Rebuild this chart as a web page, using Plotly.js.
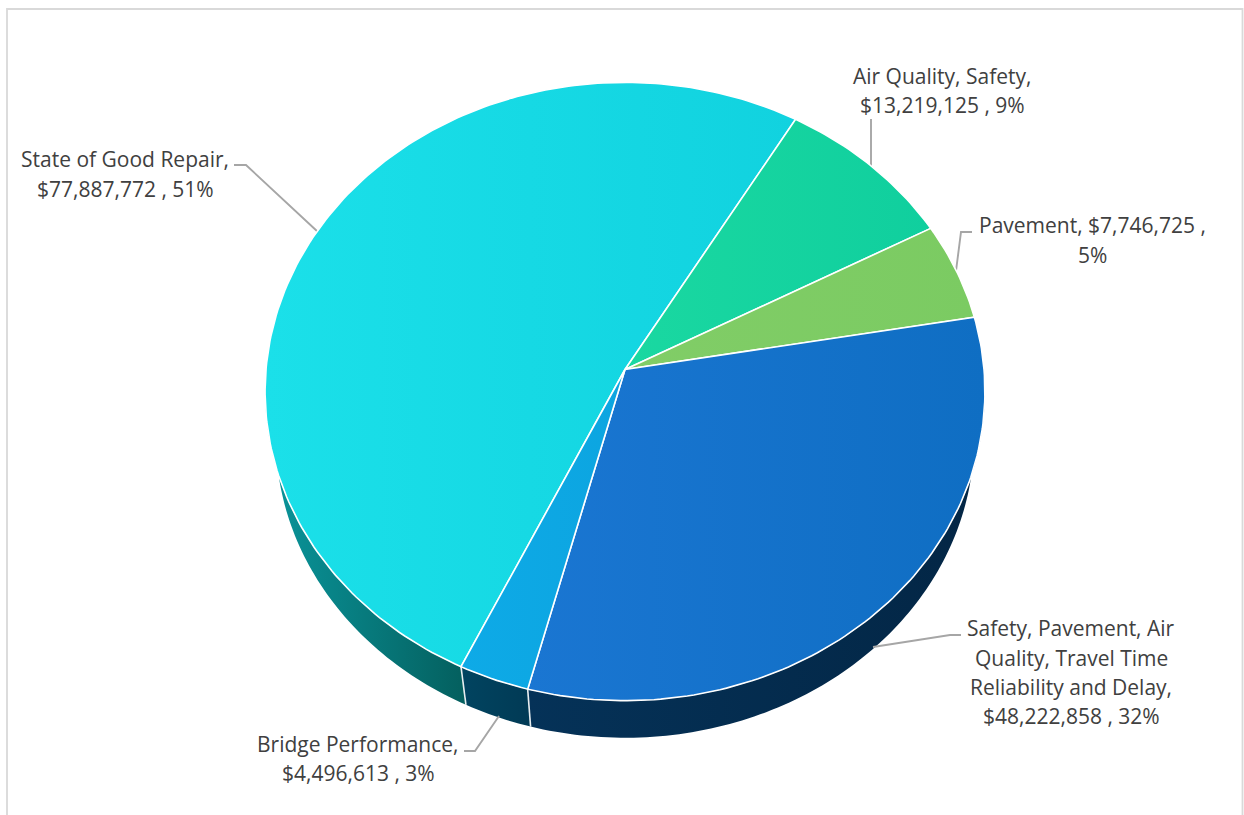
<!DOCTYPE html>
<html>
<head>
<meta charset="utf-8">
<script src="https://cdn.plot.ly/plotly-3.0.1.min.js"></script>
<style>html,body{margin:0;padding:0;background:#fff}#chart{width:1244px;height:815px}</style>
</head>
<body>
<div id="chart"></div>
<script>
// ---- data ----
const categories = ["State of Good Repair", "Air Quality, Safety", "Pavement",
  "Safety, Pavement, Air Quality, Travel Time Reliability and Delay", "Bridge Performance"];
const values = [77887772, 13219125, 7746725, 48222858, 4496613];
const topLeftColors  = ["#1BE0E9", "#1AD8A1", "#81CD67", "#1A76D2", "#0EAAE7"];
const topRightColors = ["#11D2DF", "#10CF9E", "#7BCB62", "#0F6EC3", "#0CA5E0"];
const sideLeftColors  = ["#0A969C", "#1CD9A2", "#82CE68", "#053258", "#014460"];
const sideRightColors = ["#045F5E", "#0FCF9E", "#7BCB62", "#032645", "#013A55"];
const labelLines = [
  ["State of Good Repair,", "$77,887,772 , 51%"],
  ["Air Quality, Safety,", "$13,219,125 , 9%"],
  ["Pavement, $7,746,725 ,", "5%"],
  ["Safety, Pavement, Air", "Quality, Travel Time", "Reliability and Delay,", "$48,222,858 , 32%"],
  ["Bridge Performance,", "$4,496,613 , 3%"]
];

// ---- layout of the tilted disc (pixels of the 1244x815 page) ----
const firstSliceDeg = 205.3, CX = 625, CY = 369.5, RX = 359, RY = 307.6, TILT = 0.0712;
const BASE_SCALE = 0.97, BASE_DROP = 47;
const labelX = [125, 942, 1092, 1071, 358];
const labelY = [[159, 189], [76, 105], [225, 255], [628, 658, 687, 716], [744, 773]];
const leaderX = [[234, 246, 318], [871, 871], [972, 961, 956], [961, 950, 873], [464, 475, 499]];
const leaderY = [[165, 165, 232], [119, 166], [232, 232, 271], [635, 635, 647], [751, 751, 716]];

function project(deg, scale, drop) {
  const t = deg * Math.PI / 180, u = Math.sin(t), v = Math.cos(t), w = 1 + TILT * v;
  return [CX + scale * RX * u / w, CY + drop - scale * RY * v / w];
}
function arc(a0, a1, scale, drop) {
  const n = Math.max(2, Math.ceil(Math.abs(a1 - a0))), pts = [];
  for (let i = 0; i <= n; i++) pts.push(project(a0 + (a1 - a0) * i / n, scale, drop));
  return pts;
}
const total = values.reduce((a, b) => a + b, 0);
let acc = firstSliceDeg;
const spans = values.map(val => { const s = acc; acc += val / total * 360; return [s, acc]; });

function gradient(c0, c1) {
  return { type: "horizontal", colorscale: [[0, c0], [1, c1]] };
}
const traces = [];

// visible rim: only the lower part of the disc, between 92 and 268 degrees
spans.forEach((sp, i) => {
  [[sp[0], sp[1]], [sp[0] - 360, sp[1] - 360]].forEach(r => {
    const a0 = Math.max(r[0], 92), a1 = Math.min(r[1], 268);
    if (a1 <= a0) return;
    const pts = arc(a0, a1, 1, 0).concat(arc(a1, a0, BASE_SCALE, BASE_DROP));
    pts.push(pts[0]);
    traces.push({
      type: "scatter", mode: "none", fill: "toself",
      x: pts.map(p => p[0]), y: pts.map(p => p[1]),
      fillgradient: gradient(sideLeftColors[i], sideRightColors[i]),
      name: categories[i] + " rim", hoverinfo: "skip", showlegend: false
    });
  });
});
// white seams down the rim
spans.forEach(sp => {
  const a = ((sp[0] % 360) + 360) % 360;
  if (a < 100 || a > 260) return;
  const p = project(a, 1, 0), q = project(a, BASE_SCALE, BASE_DROP);
  traces.push({ type: "scatter", mode: "lines", x: [p[0], q[0]], y: [p[1], q[1]],
    line: { color: "#E8EEF0", width: 1.6 }, hoverinfo: "skip", showlegend: false });
});
// leader lines
leaderX.forEach((lx, i) => {
  traces.push({ type: "scatter", mode: "lines", x: lx, y: leaderY[i],
    line: { color: "#A6A6A6", width: 1.9 }, hoverinfo: "skip", showlegend: false });
});
// top faces
spans.forEach((sp, i) => {
  const pts = [[CX, CY]].concat(arc(sp[0], sp[1], 1, 0));
  pts.push([CX, CY]);
  traces.push({
    type: "scatter", mode: "lines", fill: "toself",
    x: pts.map(p => p[0]), y: pts.map(p => p[1]),
    fillgradient: gradient(topLeftColors[i], topRightColors[i]),
    line: { color: "#FFFFFF", width: 1.6 },
    name: categories[i], text: "$" + values[i].toLocaleString("en-US"), hoverinfo: "name+text", showlegend: false
  });
});

const annotations = [];
labelLines.forEach((lines, i) => {
  lines.forEach((t, j) => annotations.push({
    x: labelX[i], y: labelY[i][j], xref: "x", yref: "y", text: t, showarrow: false,
    xanchor: "center", yanchor: "middle",
    font: { family: "Open Sans, sans-serif", size: 21, color: "#404040" }
  }));
});

Plotly.newPlot("chart", traces, {
  width: 1244, height: 815,
  margin: { l: 0, r: 0, t: 0, b: 0 },
  paper_bgcolor: "#FFFFFF", plot_bgcolor: "#FFFFFF",
  xaxis: { range: [0, 1244], visible: false, fixedrange: true },
  yaxis: { range: [815, 0], visible: false, fixedrange: true },
  showlegend: false,
  annotations: annotations,
  shapes: [{ type: "rect", xref: "x", yref: "y", x0: 7, x1: 1242.5, y0: 9, y1: 830,
    line: { color: "#D9D9D9", width: 1.8 }, fillcolor: "rgba(0,0,0,0)", layer: "below" }]
}, { displayModeBar: false });
</script>
</body>
</html>
